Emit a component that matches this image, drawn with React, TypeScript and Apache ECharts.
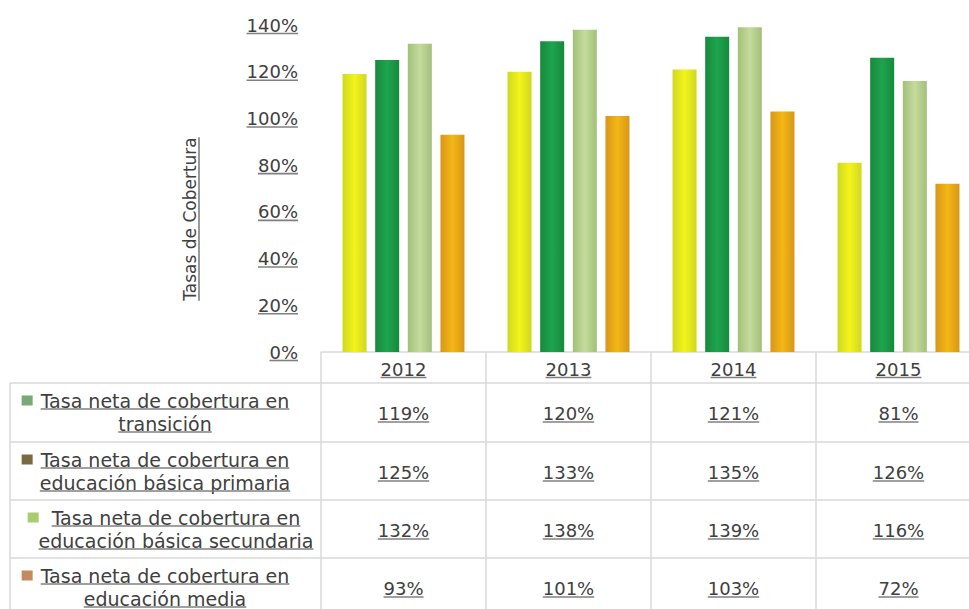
import React, { useEffect, useRef } from "react";
import * as echarts from "echarts";

const categories = ["2012", "2013", "2014", "2015"];
const transicion = [119, 120, 121, 81];
const primaria = [125, 133, 135, 126];
const secundaria = [132, 138, 139, 116];
const media = [93, 101, 103, 72];
const seriesNames = [
  "Tasa neta de cobertura en transición",
  "Tasa neta de cobertura en educación básica primaria",
  "Tasa neta de cobertura en educación básica secundaria",
  "Tasa neta de cobertura en educación media",
];
const legendLines = [
  ["Tasa neta de cobertura en", "transición"],
  ["Tasa neta de cobertura en", "educación básica primaria"],
  ["Tasa neta de cobertura en", "educación básica secundaria"],
  ["Tasa neta de cobertura en", "educación media"],
];
const yTicks = [0, 20, 40, 60, 80, 100, 120, 140];
const yTitle = "Tasas de Cobertura";

const FONT = "DejaVu Sans";
const TEXT = "#404040";
const ULINE = "#808080";
const GRIDLINE = "#d9d9d9";

const barColors = [
  ["#cfd81f", "#f3f41b", "#cfd81f"],
  ["#158a3c", "#1fa44e", "#158a3c"],
  ["#a2c079", "#c4db9c", "#a2c079"],
  ["#d8961a", "#f4b714", "#d8961a"],
];
const markerColors = ["#79a874", "#7a6a42", "#a9cc6c", "#c28b5e"];

function grad(c: string[]) {
  return {
    type: "linear",
    x: 0,
    y: 0,
    x2: 1,
    y2: 0,
    colorStops: [
      { offset: 0, color: c[0] },
      { offset: 0.5, color: c[1] },
      { offset: 1, color: c[2] },
    ],
  };
}

export default function App() {
  const ref = useRef<HTMLDivElement>(null);
  useEffect(() => {
    document.body.style.margin = "0";
    const chart = echarts.init(ref.current!, null, { renderer: "svg" });
    const values = [transicion, primaria, secundaria, media];
    const gridTop = 25;
    const gridLeft = 321;
    const axisY = 352;
    const H = 609;
    const W = 981;
    chart.setOption({
      animation: false,
      grid: { left: gridLeft, right: 0, top: gridTop, bottom: H - axisY },
      xAxis: {
        type: "category",
        data: categories,
        axisLine: { show: true, lineStyle: { color: GRIDLINE, width: 1.5 } },
        axisTick: {
          show: true,
          interval: 0,
          alignWithLabel: false,
          length: H - axisY,
          lineStyle: { color: GRIDLINE, width: 1.5 },
        },
        axisLabel: { fontSize: 18, fontFamily: FONT, color: TEXT, margin: 8 },
      },
      yAxis: {
        type: "value",
        min: 0,
        max: 140,
        interval: 20,
        axisLine: { show: false },
        axisTick: { show: false },
        splitLine: { show: false },
        axisLabel: {
          formatter: (v: number) => `${v}%`,
          fontSize: 18,
          fontFamily: FONT,
          color: TEXT,
          margin: 23,
        },
      },
      series: values.map((d, i) => ({
        type: "bar",
        name: seriesNames[i],
        data: d,
        barWidth: 24,
        barGap: "36%",
        itemStyle: { color: grad(barColors[i]) },
      })),
    });

    const ctx = document.createElement("canvas").getContext("2d")!;
    const measure = (t: string, size: number) => {
      ctx.font = `${size}px "${FONT}"`;
      return ctx.measureText(t).width;
    };
    const els: any[] = [];
    const uline = (x1: number, y1: number, x2: number, y2: number) =>
      els.push({
        type: "line",
        silent: true,
        shape: { x1, y1, x2, y2 },
        style: { stroke: ULINE, lineWidth: 1.6 },
      });
    const text = (t: string, x: number, y: number, size: number, extra: any = {}) =>
      els.push({
        type: "text",
        x,
        y,
        silent: true,
        style: {
          text: t,
          fontSize: size,
          fontFamily: FONT,
          fill: TEXT,
          align: "center",
          verticalAlign: "middle",
        },
        ...extra,
      });

    // y label underlines
    yTicks.forEach((v) => {
      const y = chart.convertToPixel({ yAxisIndex: 0 }, v) as number;
      const w = measure(`${v}%`, 18);
      const right = gridLeft - 23;
      uline(right - w, y + 8.5, right, y + 8.5);
    });
    // year underlines
    const colX = categories.map((c) => chart.convertToPixel({ xAxisIndex: 0 }, c) as number);
    categories.forEach((c, i) => {
      const w = measure(c, 18);
      const y = axisY + 8 + 9 + 8.5;
      uline(colX[i] - w / 2, y, colX[i] + w / 2, y);
    });

    // y title
    const tCx = 190;
    const tCy = 219;
    text(yTitle, tCx, tCy, 17, { rotation: Math.PI / 2 });
    const tw = measure(yTitle, 17);
    uline(tCx + 9, tCy - tw / 2, tCx + 9, tCy + tw / 2);

    // table rows
    const tableLeft = 10;
    const rowTops = [383, 442, 500, 558];
    const rowH = 58;
    rowTops.forEach((y) =>
      els.push({
        type: "line",
        silent: true,
        shape: { x1: tableLeft, y1: y, x2: W, y2: y },
        style: { stroke: GRIDLINE, lineWidth: 1.5 },
      })
    );
    els.push({
      type: "line",
      silent: true,
      shape: { x1: tableLeft, y1: rowTops[0], x2: tableLeft, y2: H },
      style: { stroke: GRIDLINE, lineWidth: 1.5 },
    });

    const legendCx = [165, 165, 176, 165];
    rowTops.forEach((top, r) => {
      const cy = top + rowH / 2;
      const l1 = legendLines[r][0];
      const l2 = legendLines[r][1];
      const cx = legendCx[r];
      const y1 = cy - 11.5;
      const y2 = cy + 11.5;
      const w1 = measure(l1, 19);
      const w2 = measure(l2, 19);
      text(l1, cx, y1, 19);
      uline(cx - w1 / 2, y1 + 8.5, cx + w1 / 2, y1 + 8.5);
      text(l2, cx, y2, 19);
      uline(cx - w2 / 2, y2 + 8.5, cx + w2 / 2, y2 + 8.5);
      const mx = r === 2 ? cx - w1 / 2 - 24 : cx - w1 / 2 - 19;
      els.push({
        type: "rect",
        silent: true,
        shape: { x: mx, y: y1 - 5, width: 11, height: 10 },
        style: { fill: markerColors[r] },
      });
      values[r].forEach((v, i) => {
        const t = `${v}%`;
        const w = measure(t, 18);
        text(t, colX[i], cy + 1.5, 18);
        uline(colX[i] - w / 2, cy + 10, colX[i] + w / 2, cy + 10);
      });
    });

    chart.setOption({ graphic: { elements: els } });
    return () => chart.dispose();
  }, []);

  return (
    <div style={{ width: 969, height: 609, overflow: "hidden", position: "relative" }}>
      <div ref={ref} style={{ width: 981, height: 609 }} />
    </div>
  );
}
